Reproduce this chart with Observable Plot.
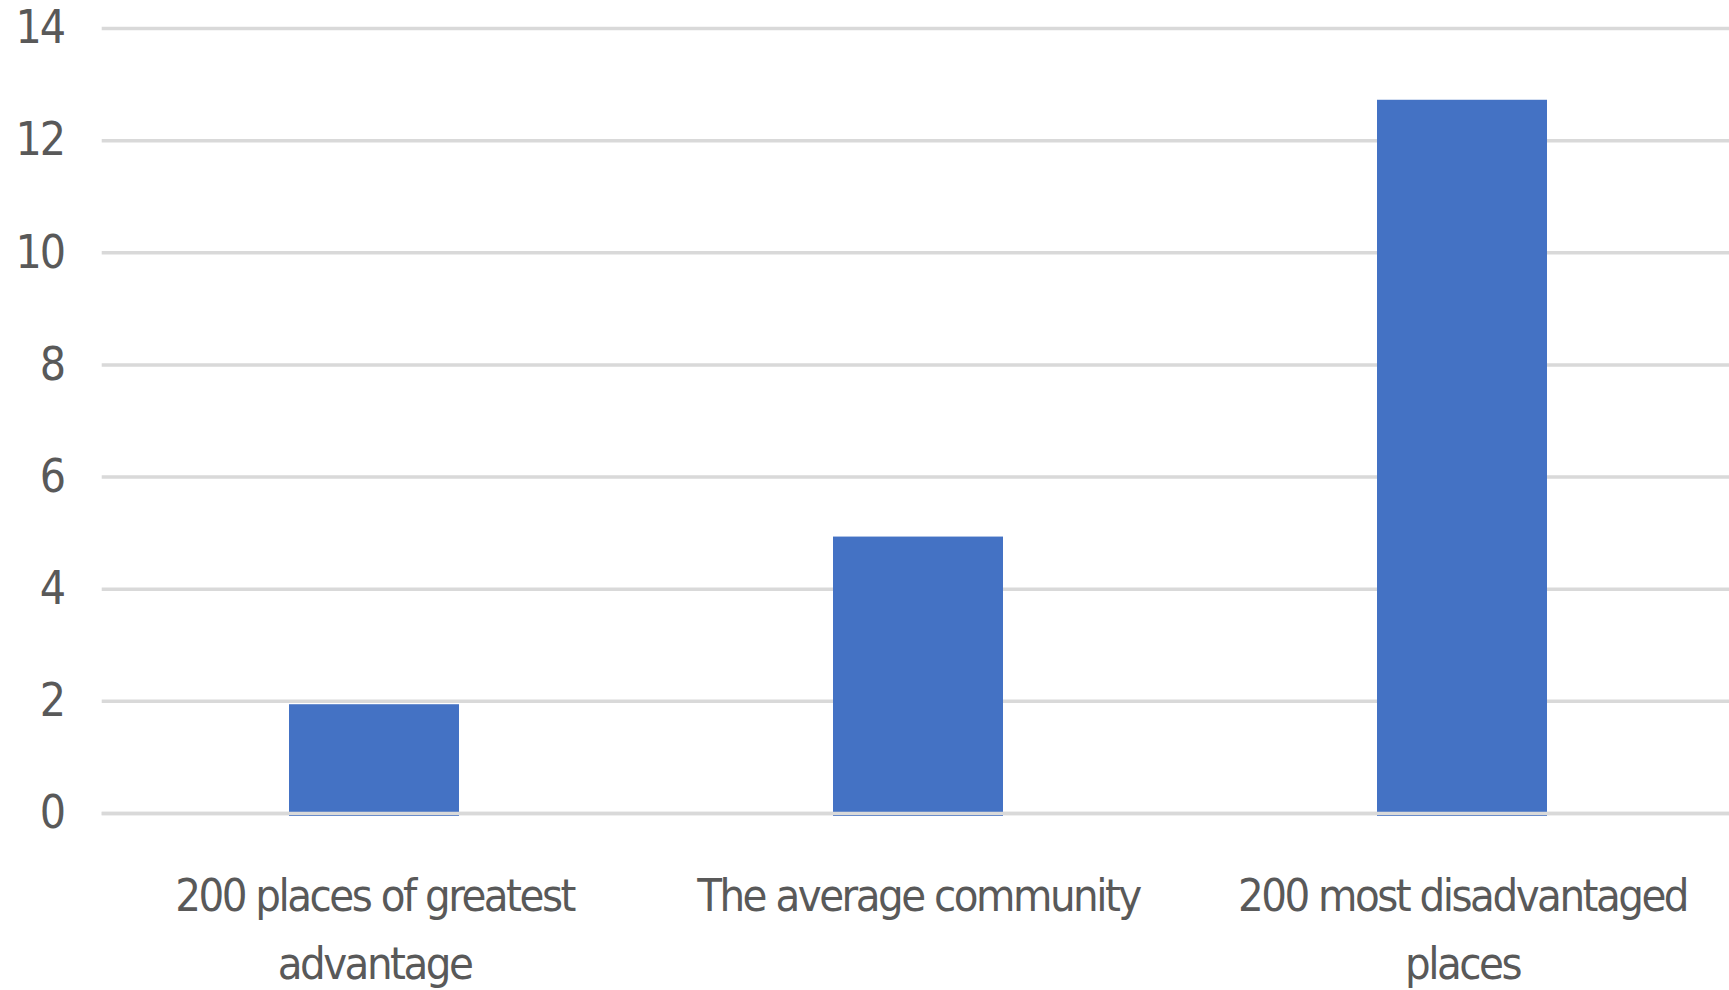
<!DOCTYPE html>
<html>
<head>
<meta charset="utf-8">
<script src="https://cdn.jsdelivr.net/npm/d3@7"></script>
<script src="https://cdn.jsdelivr.net/npm/@observablehq/plot@0.6"></script>
<style>
  html, body { margin: 0; padding: 0; background: #fff; }
  #chart svg { display: block; }
  #chart g[aria-label="x-axis tick label"] text { letter-spacing: -2.5px; }
  #chart g[aria-label="y-axis tick label"] text { letter-spacing: -2px; }
</style>
</head>
<body>
<div id="chart"></div>
<script>
const categories = [
  "200 places of greatest advantage",
  "The average community",
  "200 most disadvantaged places"
];
const tickLabels = [
  "200 places of greatest\nadvantage",
  "The average community",
  "200 most disadvantaged\nplaces"
];
const values = [1.94, 4.93, 12.72];
const yTicks = [0, 2, 4, 6, 8, 10, 12, 14];

const data = categories.map((c, i) => ({category: c, value: values[i]}));
const labelOf = new Map(categories.map((c, i) => [c, tickLabels[i]]));

const font = "'DejaVu Sans Condensed', 'Liberation Sans Narrow', 'Roboto', sans-serif";

const chart = Plot.plot({
  width: 1729,
  height: 990,
  marginTop: 28,
  marginBottom: 177,
  marginLeft: 101.7,
  marginRight: -5.3,
  style: {fontFamily: font, background: "#fff", overflow: "visible"},
  x: {domain: categories, paddingInner: 0.6876, paddingOuter: 0.344, label: null},
  y: {domain: [0, 14], ticks: yTicks, label: null},
  marks: [
    Plot.gridY(yTicks, {stroke: "#d9d9d9", strokeOpacity: 1, strokeWidth: 3.5}),
    Plot.barY(data, {x: "category", y: "value", fill: "#4472C4", insetBottom: -3}),
    Plot.ruleY([0], {stroke: "#d9d9d9", strokeWidth: 3.5}),
    Plot.axisY(yTicks, {
      tickSize: 0, tickPadding: 38, fontSize: 46, fill: "#595959", label: null,
      tickFormat: d => String(d)
    }),
    Plot.axisX({
      tickSize: 0, tickPadding: 49, fontSize: 45, fill: "#595959", label: null,
      lineHeight: 1.511, tickFormat: d => labelOf.get(d)
    })
  ]
});
document.getElementById("chart").appendChild(chart);
</script>
</body>
</html>
